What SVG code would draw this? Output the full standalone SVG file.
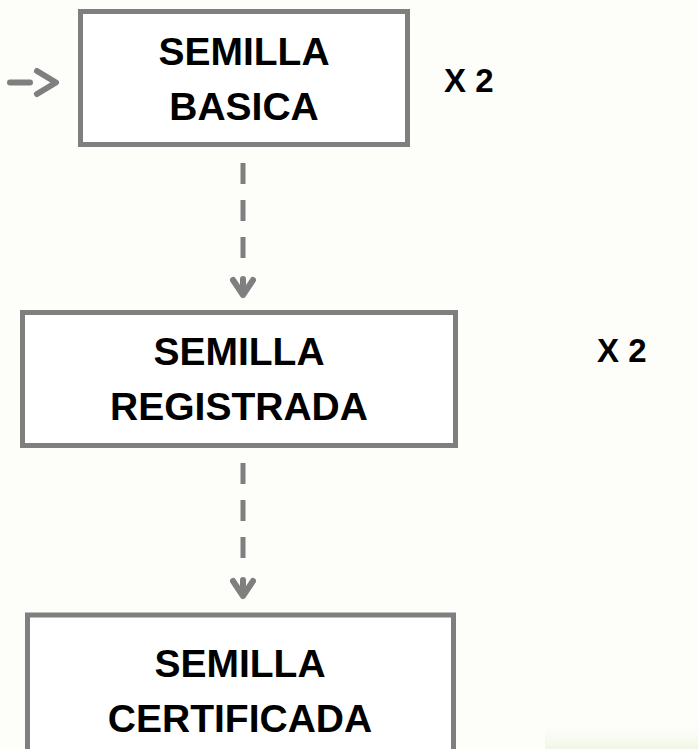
<svg xmlns="http://www.w3.org/2000/svg" width="698" height="749" viewBox="0 0 698 749">
<defs>
<style>
.box{fill:#ffffff;stroke:#7f7f7f;stroke-width:5}
.t{font-family:"Liberation Sans",Arial,sans-serif;font-weight:bold;font-size:39px;fill:#000;text-anchor:middle}
.x{font-family:"Liberation Sans",Arial,sans-serif;font-weight:bold;font-size:33px;fill:#000}
.dash{stroke:#7f7f7f;stroke-width:5;fill:none;stroke-dasharray:21 16}
.head{stroke:#7f7f7f;stroke-width:6;fill:none;stroke-linecap:round;stroke-linejoin:round}
</style>
<linearGradient id="g" x1="0" y1="0" x2="0" y2="1">
<stop offset="0" stop-color="#fdfdf9" stop-opacity="0"/>
<stop offset="1" stop-color="#eef6e3"/>
</linearGradient>
</defs>
<rect x="0" y="0" width="698" height="749" fill="#fdfdfa"/>
<rect x="545" y="722" width="153" height="27" fill="url(#g)"/>
<g id="connectors">
<path class="head" d="M10 82.5H30"/>
<path class="head" d="M37 71L56 82.5L37 94"/>
<path class="dash" d="M243 163V262"/>
<path class="head" d="M233 280L243 295L253 280M243 279V295"/>
<path class="dash" d="M243 463V562"/>
<path class="head" d="M233 581L243 596L253 581M243 580V596"/>
</g>
<g id="node-basica">
<rect class="box" x="80.5" y="11.5" width="327" height="133"/>
<text class="t" x="244" y="65">SEMILLA</text>
<text class="t" x="244" y="120">BASICA</text>
</g>
<g id="node-registrada">
<rect class="box" x="22.5" y="312.5" width="433" height="133"/>
<text class="t" x="239" y="365">SEMILLA</text>
<text class="t" x="239" y="420">REGISTRADA</text>
</g>
<g id="node-certificada">
<rect class="box" x="27.5" y="615" width="426" height="160"/>
<text class="t" x="240" y="677">SEMILLA</text>
<text class="t" x="240" y="732">CERTIFICADA</text>
</g>
<g id="label-x2-a"><text class="x" x="444" y="92">X 2</text></g>
<g id="label-x2-b"><text class="x" x="597" y="362">X 2</text></g>
</svg>
